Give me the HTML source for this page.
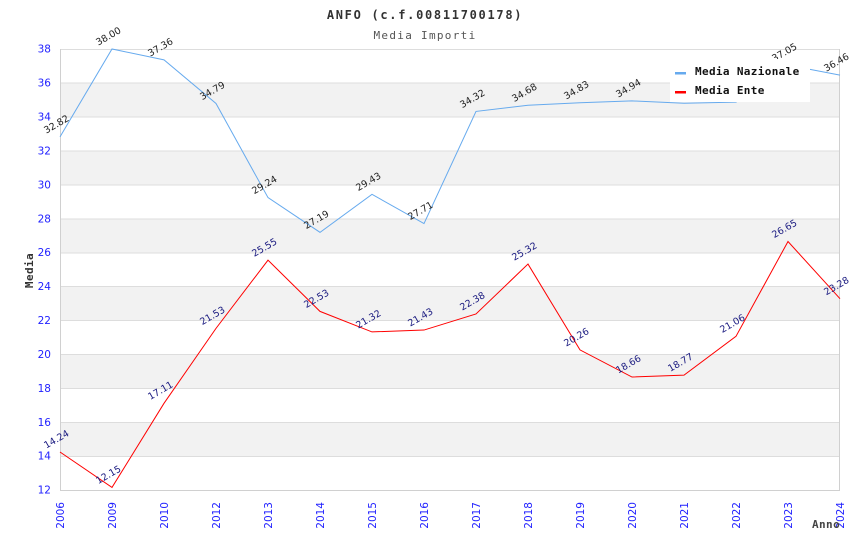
<!DOCTYPE html>
<html><head><meta charset="utf-8"><style>
html,body{margin:0;padding:0;background:#fff;}
svg{display:block;}
.tk{font-family:"DejaVu Sans","Liberation Sans",sans-serif;font-size:10.5px;fill:#2222ff;}
.lb{font-family:"DejaVu Sans","Liberation Sans",sans-serif;font-size:9.5px;}
.mono{font-family:"DejaVu Sans Mono","Liberation Mono",monospace;}
</style></head><body>
<svg width="850" height="550" viewBox="0 0 850 550" xmlns="http://www.w3.org/2000/svg">
<rect width="850" height="550" fill="#fff"/>
<g fill="#f2f2f2">
<rect x="60" y="82.9" width="780" height="33.9"/>
<rect x="60" y="150.8" width="780" height="33.9"/>
<rect x="60" y="218.6" width="780" height="33.9"/>
<rect x="60" y="286.5" width="780" height="33.9"/>
<rect x="60" y="354.3" width="780" height="33.9"/>
<rect x="60" y="422.2" width="780" height="33.9"/>
</g>
<g stroke="#dddddd" stroke-width="1">
<line x1="60" y1="49.5" x2="840" y2="49.5"/>
<line x1="60" y1="83" x2="840" y2="83"/>
<line x1="60" y1="117" x2="840" y2="117"/>
<line x1="60" y1="151" x2="840" y2="151"/>
<line x1="60" y1="185" x2="840" y2="185"/>
<line x1="60" y1="219" x2="840" y2="219"/>
<line x1="60" y1="253" x2="840" y2="253"/>
<line x1="60" y1="286.5" x2="840" y2="286.5"/>
<line x1="60" y1="320.5" x2="840" y2="320.5"/>
<line x1="60" y1="354.5" x2="840" y2="354.5"/>
<line x1="60" y1="388.5" x2="840" y2="388.5"/>
<line x1="60" y1="422.5" x2="840" y2="422.5"/>
<line x1="60" y1="456.5" x2="840" y2="456.5"/>
</g>
<g stroke="#d0d0d0" stroke-width="1">
<line x1="60.5" y1="49" x2="60.5" y2="490"/>
<line x1="839.5" y1="49" x2="839.5" y2="490"/>
<line x1="60" y1="490.5" x2="840" y2="490.5"/>
</g>
<g class="tk" text-anchor="end">
<text x="51" y="52.7">38</text>
<text x="51" y="86.6">36</text>
<text x="51" y="120.5">34</text>
<text x="51" y="154.5">32</text>
<text x="51" y="188.4">30</text>
<text x="51" y="222.3">28</text>
<text x="51" y="256.2">26</text>
<text x="51" y="290.1">24</text>
<text x="51" y="324.1">22</text>
<text x="51" y="358">20</text>
<text x="51" y="391.9">18</text>
<text x="51" y="425.8">16</text>
<text x="51" y="459.7">14</text>
<text x="51" y="493.7">12</text>
</g>
<g class="tk" text-anchor="end">
<text transform="translate(64,502) rotate(-90)">2006</text>
<text transform="translate(116,502) rotate(-90)">2009</text>
<text transform="translate(168,502) rotate(-90)">2010</text>
<text transform="translate(220,502) rotate(-90)">2012</text>
<text transform="translate(272,502) rotate(-90)">2013</text>
<text transform="translate(324,502) rotate(-90)">2014</text>
<text transform="translate(376,502) rotate(-90)">2015</text>
<text transform="translate(428,502) rotate(-90)">2016</text>
<text transform="translate(480,502) rotate(-90)">2017</text>
<text transform="translate(532,502) rotate(-90)">2018</text>
<text transform="translate(584,502) rotate(-90)">2019</text>
<text transform="translate(636,502) rotate(-90)">2020</text>
<text transform="translate(688,502) rotate(-90)">2021</text>
<text transform="translate(740,502) rotate(-90)">2022</text>
<text transform="translate(792,502) rotate(-90)">2023</text>
<text transform="translate(844,502) rotate(-90)">2024</text>
</g>
<polyline fill="none" stroke="#66aaee" stroke-width="1" points="60,136.86 112,49 164,59.86 216,103.45 268,197.58 320,232.35 372,194.36 424,223.53 476,111.42 528,105.31 580,102.77 632,100.9 684,103.28 736,102.09 788,65.11 840,75.12"/>
<polyline fill="none" stroke="#ff0000" stroke-width="1" points="60,452 112,487.45 164,403.32 216,328.36 268,260.17 320,311.39 372,331.92 424,330.05 476,313.94 528,264.07 580,349.9 632,377.03 684,375.17 736,336.33 788,241.51 840,298.67"/>
<g class="lb" fill="#222" text-anchor="middle">
<text transform="translate(58,127) rotate(-30)">32.82</text>
<text transform="translate(110,39) rotate(-30)">38.00</text>
<text transform="translate(162,50) rotate(-30)">37.36</text>
<text transform="translate(214,93.5) rotate(-30)">34.79</text>
<text transform="translate(266,187.6) rotate(-30)">29.24</text>
<text transform="translate(318,222.4) rotate(-30)">27.19</text>
<text transform="translate(370,184.4) rotate(-30)">29.43</text>
<text transform="translate(422,213.5) rotate(-30)">27.71</text>
<text transform="translate(474,101.4) rotate(-30)">34.32</text>
<text transform="translate(526,95.3) rotate(-30)">34.68</text>
<text transform="translate(578,92.8) rotate(-30)">34.83</text>
<text transform="translate(630,90.9) rotate(-30)">34.94</text>
<text transform="translate(786,55.1) rotate(-30)">37.05</text>
<text transform="translate(838,65.1) rotate(-30)">36.46</text>
</g>
<g class="lb" fill="#1a1a80" text-anchor="middle">
<text transform="translate(58,442) rotate(-30)">14.24</text>
<text transform="translate(110,477.5) rotate(-30)">12.15</text>
<text transform="translate(162,393.3) rotate(-30)">17.11</text>
<text transform="translate(214,318.4) rotate(-30)">21.53</text>
<text transform="translate(266,250.2) rotate(-30)">25.55</text>
<text transform="translate(318,301.4) rotate(-30)">22.53</text>
<text transform="translate(370,321.9) rotate(-30)">21.32</text>
<text transform="translate(422,320) rotate(-30)">21.43</text>
<text transform="translate(474,303.9) rotate(-30)">22.38</text>
<text transform="translate(526,254.1) rotate(-30)">25.32</text>
<text transform="translate(578,339.9) rotate(-30)">20.26</text>
<text transform="translate(630,367) rotate(-30)">18.66</text>
<text transform="translate(682,365.2) rotate(-30)">18.77</text>
<text transform="translate(734,326.3) rotate(-30)">21.06</text>
<text transform="translate(786,231.5) rotate(-30)">26.65</text>
<text transform="translate(838,288.7) rotate(-30)">23.28</text>
</g>
<rect x="670" y="59" width="140" height="43" fill="#fff"/>
<rect x="675" y="72" width="11" height="2.5" fill="#66aaee"/>
<rect x="675" y="91" width="11" height="2.5" fill="#ff0000"/>
<g class="mono" font-weight="bold" font-size="11px" fill="#111" letter-spacing="0.35">
<text x="695" y="75">Media Nazionale</text>
<text x="695" y="94">Media Ente</text>
</g>
<text class="mono" x="425" y="19" text-anchor="middle" font-size="12px" font-weight="bold" letter-spacing="1.7" fill="#333">ANFO (c.f.00811700178)</text>
<text class="mono" x="425" y="39" text-anchor="middle" font-size="11px" letter-spacing="1.3" fill="#555">Media Importi</text>
<text class="mono" transform="translate(33,270.5) rotate(-90)" text-anchor="middle" font-size="11px" font-weight="bold" letter-spacing="0.4" fill="#333">Media</text>
<text class="mono" x="812" y="528" font-size="11px" font-weight="bold" letter-spacing="0.4" fill="#444">Anno</text>
</svg>
</body></html>
